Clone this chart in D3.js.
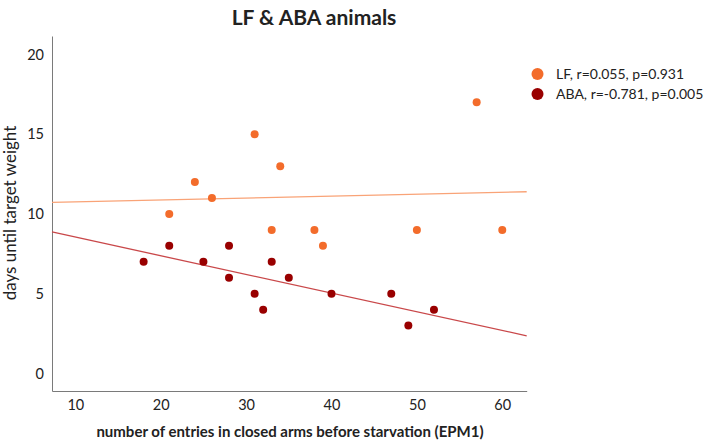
<!DOCTYPE html>
<html><head><meta charset="utf-8">
<script src="https://cdn.jsdelivr.net/npm/d3@7"></script>
<style>body{margin:0;background:#fff}svg{display:block}text{font-family:Lato,"Open Sans",sans-serif;fill:#222}</style>
</head><body>
<svg id="c" width="709" height="442"></svg>
<script>
const seriesNames = ["LF", "ABA"];
const legendLabels = ["LF, r=0.055, p=0.931", "ABA, r=-0.781, p=0.005"];
const lfX = [21, 24, 26, 31, 33, 34, 38, 39, 50, 57, 60];
const lfY = [10, 12, 11, 15, 9, 13, 9, 8, 9, 17, 9];
const abaX = [18, 21, 25, 28, 28, 31, 32, 33, 35, 40, 47, 49, 52];
const abaY = [7, 8, 7, 8, 6, 5, 4, 7, 6, 5, 5, 3, 4];
const xTicks = [10, 20, 30, 40, 50, 60];
const yTicks = [0, 5, 10, 15, 20];
const dotColors = ["#f36c2b", "#990000"];
const lineColors = ["#f9a377", "#c9484a"];

const svg = d3.select("#c");
const x = d3.scaleLinear().domain([7.27, 62.86]).range([52, 526.7]);
const y = d3.scaleLinear().domain([-1.1, 21.16]).range([391, 36]);

function fit(xs, ys) {
  const mx = d3.mean(xs), my = d3.mean(ys);
  let sxy = 0, sxx = 0;
  xs.forEach((v, i) => { sxy += (v - mx) * (ys[i] - my); sxx += (v - mx) ** 2; });
  const b = sxy / sxx;
  return v => my + b * (v - mx);
}

// axes
const xAxis = svg.append("g").attr("transform", "translate(0,391)")
  .call(d3.axisBottom(x).tickValues(xTicks).tickSize(0).tickPadding(9).tickFormat(d3.format("d")));
const yAxis = svg.append("g").attr("transform", "translate(52,0)")
  .call(d3.axisLeft(y).tickValues(yTicks).tickSize(0).tickPadding(8).tickFormat(d3.format("d")));
[xAxis, yAxis].forEach(g => {
  g.select(".domain").attr("stroke", "#7a7a7a").attr("stroke-width", 1);
  g.selectAll("text").attr("font-size", 14.5).attr("fill", "#222").attr("font-family", "Lato");
});

const data = [[lfX, lfY], [abaX, abaY]];
// regression lines
data.forEach(([xs, ys], i) => {
  const f = fit(xs, ys);
  const [d0, d1] = x.domain();
  svg.append("line")
    .attr("x1", x(d0)).attr("y1", y(f(d0)))
    .attr("x2", x(d1)).attr("y2", y(f(d1)))
    .attr("stroke", lineColors[i]).attr("stroke-width", 1.3);
});
// points
data.forEach(([xs, ys], i) => {
  svg.append("g").selectAll("circle").data(xs).join("circle")
    .attr("cx", d => x(d)).attr("cy", (d, j) => y(ys[j])).attr("r", 4)
    .attr("fill", dotColors[i]);
});

// title
svg.append("text").attr("x", 314).attr("y", 25).attr("text-anchor", "middle")
  .attr("font-size", 21).attr("font-weight", "bold").text("LF & ABA animals");
// axis titles
svg.append("text").attr("x", 290).attr("y", 437).attr("text-anchor", "middle")
  .attr("font-size", 15).attr("font-weight", "bold")
  .text("number of entries in closed arms before starvation (EPM1)");
svg.append("text").attr("transform", "translate(16,213) rotate(-90)").attr("text-anchor", "middle")
  .attr("font-size", 17).text("days until target weight");

// legend
const lg = svg.append("g");
legendLabels.forEach((t, i) => {
  lg.append("circle").attr("cx", 537.5).attr("cy", 74 + i * 20).attr("r", 6).attr("fill", dotColors[i]);
  lg.append("text").attr("x", 556).attr("y", 74 + i * 20 + 5).attr("font-size", 14).text(t);
});
</script>
</body></html>
